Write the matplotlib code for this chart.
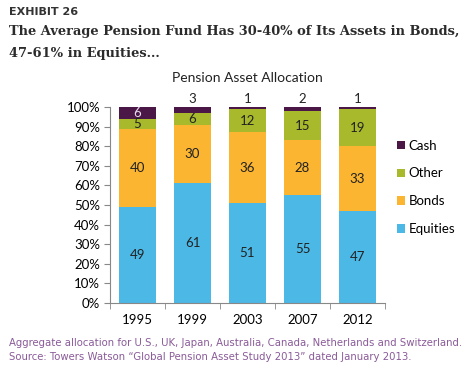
import numpy as np
import matplotlib.pyplot as plt

years = ["1995", "1999", "2003", "2007", "2012"]
equities = [49, 61, 51, 55, 47]
bonds = [40, 30, 36, 28, 33]
other = [5, 6, 12, 15, 19]
cash = [6, 3, 1, 2, 1]

series = [("Equities", equities, "#4cb8e6"),
          ("Bonds", bonds, "#fbb531"),
          ("Other", other, "#a8b92c"),
          ("Cash", cash, "#4a1747")]

fig = plt.figure(figsize=(4.74, 3.68), dpi=100)
ax = fig.add_axes([110 / 474, 1 - 303 / 368, 275 / 474, 196 / 368])

x = np.arange(len(years))
bottom = np.zeros(len(years))
handles = []
for name, vals, col in series:
    vals = np.array(vals, dtype=float)
    b = ax.bar(x, vals, 0.69, bottom=bottom, color=col, label=name)
    handles.append(b)
    for i, v in enumerate(vals):
        if name == "Cash":
            if v >= 5:
                ax.text(x[i], bottom[i] + v / 2, f"{int(v)}", ha="center", va="center",
                        color="#e8dcef", fontsize=9.5, family="Lato")
            else:
                ax.text(x[i], 101, f"{int(v)}", ha="center", va="bottom",
                        color="#222222", fontsize=9.5, family="Lato")
        else:
            ax.text(x[i], bottom[i] + v / 2, f"{int(v)}", ha="center", va="center",
                    color="#222222", fontsize=9.5, family="Lato")
    bottom += vals

ax.set_xlim(-0.5, len(years) - 0.5)
ax.set_ylim(0, 100)
ax.set_yticks(np.arange(0, 101, 10))
ax.set_yticklabels([f"{v}%" for v in range(0, 101, 10)], family="Lato", fontsize=9.5)
ax.set_xticks(x)
ax.set_xticklabels(years, family="Lato", fontsize=9.5)
ax.set_xticks(np.arange(-0.5, len(years)), minor=True)
ax.tick_params(axis="x", which="major", length=0, pad=8)
ax.tick_params(axis="x", which="minor", length=4, color="#888888", direction="out")
ax.tick_params(axis="y", length=4, color="#888888", pad=3)
for s in ["top", "right"]:
    ax.spines[s].set_visible(False)
ax.spines["left"].set_color("#888888")
ax.spines["bottom"].set_color("#888888")

ax.set_title("Pension Asset Allocation", family="Lato", fontsize=10, color="#222222", pad=18)

leg = ax.legend(handles[::-1], [s[0] for s in series][::-1], loc="center left",
                bbox_to_anchor=(1.0, 0.59), frameon=False, prop={"family": "Lato", "size": 9.5},
                handlelength=0.6, handleheight=0.6, handletextpad=0.3, labelspacing=1.2)

fig.text(9 / 474, 1 - 12 / 368, "EXHIBIT 26", fontsize=8, weight="bold",
         color="#333333", va="center", family="DejaVu Sans")
fig.text(9 / 474, 1 - 31 / 368, "The Average Pension Fund Has 30-40% of Its Assets in Bonds,",
         fontsize=9.4, weight="bold", color="#2b2b2b", va="center", family="DejaVu Serif")
fig.text(9 / 474, 1 - 54 / 368, "47-61% in Equities...",
         fontsize=9.4, weight="bold", color="#2b2b2b", va="center", family="DejaVu Serif")

fig.text(9 / 474, 1 - 343 / 368,
         "Aggregate allocation for U.S., UK, Japan, Australia, Canada, Netherlands and Switzerland.",
         fontsize=7.3, color="#8a5a99", va="center", family="DejaVu Sans")
fig.text(9 / 474, 1 - 357 / 368,
         "Source: Towers Watson \u201cGlobal Pension Asset Study 2013\u201d dated January 2013.",
         fontsize=7.3, color="#8a5a99", va="center", family="DejaVu Sans")

fig.savefig("out.png", dpi=100)
